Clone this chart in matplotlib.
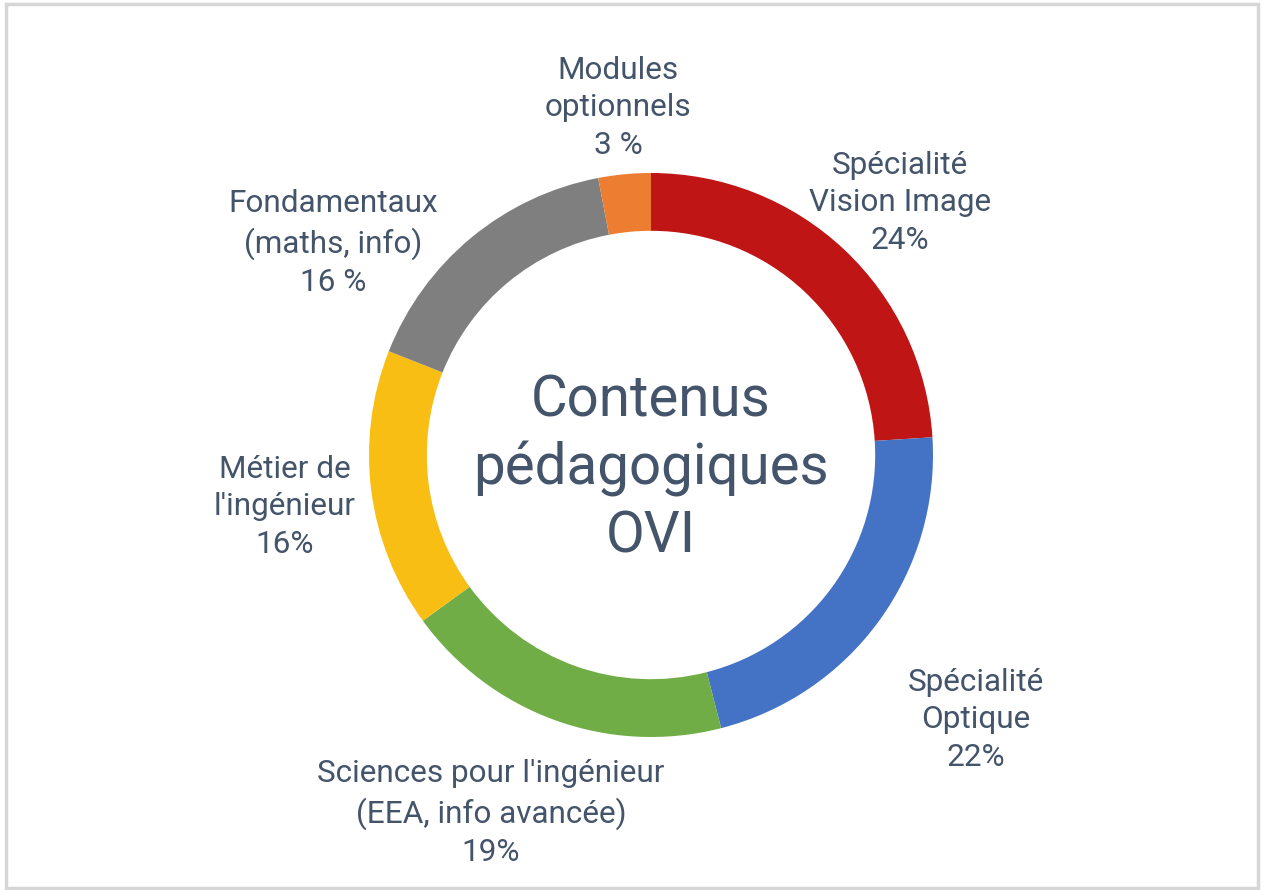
import numpy as np
import matplotlib
matplotlib.use("Agg")
import matplotlib.pyplot as plt
from matplotlib.patches import Rectangle

labels = ["Spécialité\nVision Image\n24%",
          "Spécialité\nOptique\n22%",
          "Sciences pour l'ingénieur\n(EEA, info avancée)\n19%",
          "Métier de\nl'ingénieur\n16%",
          "Fondamentaux\n(maths, info)\n16 %",
          "Modules\noptionnels\n3 %"]
values = [24, 22, 19, 16, 16, 3]
colors = ["#BF1515", "#4472C4", "#70AD47", "#F9BE14", "#7F7F7F", "#ED7D31"]
# label centres, in units of the outer radius
label_pos = [(0.883, 0.894), (1.152, -0.939), (-0.567, -1.269),
             (-1.298, -0.184), (-1.128, 0.752), (-0.117, 1.231)]
center_title = "Contenus\npédagogiques\nOVI"

plt.rcParams['font.family'] = ['Roboto', 'DejaVu Sans']
txt_color = "#44546A"

W, H = 1264, 890
cx, cy, R = 651, 455, 282
fig = plt.figure(figsize=(W / 100, H / 100), dpi=100)
ax = fig.add_axes([0, 0, 1, 1])

ax.pie(values, colors=colors, startangle=90, counterclock=False, radius=1,
       wedgeprops=dict(width=0.205, linewidth=0))

ax.set_xlim(-cx / R, (W - cx) / R)
ax.set_ylim(-(H - cy) / R, cy / R)
ax.set_aspect("equal")
ax.axis("off")

# frame
ax.add_patch(Rectangle((-(cx - 6) / R, -(H - cy - 2) / R), (W - 12) / R, (H - 6) / R,
                       fill=False, edgecolor="#D6D6D6", linewidth=2.5, clip_on=False))

for lab, (x, y) in zip(labels, label_pos):
    ax.text(x, y, lab, ha="center", va="center", fontsize=22.7, color=txt_color,
            linespacing=1.36)

ax.text(0, -0.05, center_title, ha="center", va="center", fontsize=40.7,
        color=txt_color, linespacing=1.29)

fig.savefig("out.png", dpi=100)
